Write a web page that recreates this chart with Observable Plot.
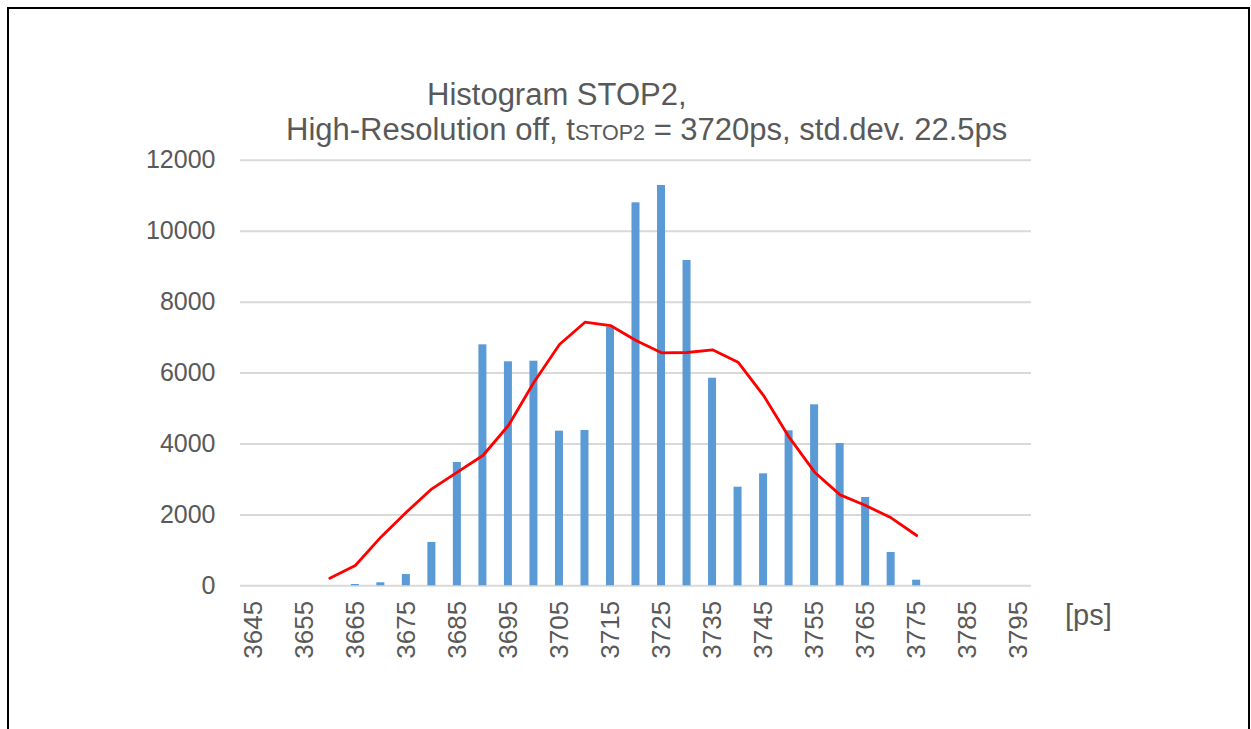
<!DOCTYPE html>
<html>
<head>
<meta charset="utf-8">
<script src="https://cdn.jsdelivr.net/npm/d3@7"></script>
<script src="https://cdn.jsdelivr.net/npm/@observablehq/plot@0.6"></script>
<style>
  html, body { margin: 0; padding: 0; background: #fff; }
  #wrap { position: relative; width: 1251px; height: 729px; overflow: hidden; background: #fff;
          font-family: "Liberation Sans", Arial, sans-serif; color: #595959; }
  #frame { position: absolute; left: 7px; top: 7px; width: 1243px; height: 800px;
           border: 2.5px solid #000; box-sizing: border-box; }
  .t { position: absolute; font-size: 31px; line-height: 35px; white-space: nowrap; }
  .sub { font-size: 21.5px; }
  #unit { position: absolute; left: 1065px; top: 599px; font-size: 29px; line-height: 33px; }
  #chart { position: absolute; left: 0; top: 150px; }
</style>
</head>
<body>
<div id="wrap">
  <div id="frame"></div>
  <div class="t" style="left:427px; top:77px;">Histogram STOP2,</div>
  <div class="t" style="left:286px; top:112px;">High-Resolution off, t<span class="sub">STOP2</span> = 3720ps, std.dev. 22.5ps</div>
  <div id="chart"></div>
  <div id="unit">[ps]</div>
</div>
<script>
const categories = [3645, 3650, 3655, 3660, 3665, 3670, 3675, 3680, 3685, 3690, 3695, 3700, 3705, 3710, 3715,
  3720, 3725, 3730, 3735, 3740, 3745, 3750, 3755, 3760, 3765, 3770, 3775, 3780, 3785, 3790, 3795];
const counts = [0, 0, 0, 0, 37, 85, 318, 1221, 3477, 6796, 6317, 6334, 4361, 4380, 7293,
  10801, 11289, 9174, 5854, 2781, 3158, 4371, 5104, 4013, 2490, 939, 158, 0, 0, 0, 0];
const fitCategories = [3660, 3665, 3670, 3675, 3680, 3685, 3690, 3695, 3700, 3705, 3710, 3715,
  3720, 3725, 3730, 3735, 3740, 3745, 3750, 3755, 3760, 3765, 3770, 3775];
const fitValues = [215, 572, 1371, 2076, 2735, 3204, 3675, 4521, 5742, 6805, 7434, 7339,
  6917, 6571, 6580, 6655, 6306, 5366, 4191, 3204, 2565, 2264, 1917, 1418];
const xTickLabels = [3645, 3655, 3665, 3675, 3685, 3695, 3705, 3715, 3725, 3735, 3745, 3755, 3765, 3775, 3785, 3795];
const yTicks = [0, 2000, 4000, 6000, 8000, 10000, 12000];

const bars = categories.map((c, i) => ({c, v: counts[i]}));
const fit = fitCategories.map((c, i) => ({c, v: fitValues[i]}));

const chart = Plot.plot({
  width: 1251,
  height: 579,
  marginLeft: 240,
  marginRight: 220,
  marginTop: 9.8,
  marginBottom: 143.7,
  style: {fontFamily: "'Liberation Sans', Arial, sans-serif", fontSize: "25px", color: "#595959", background: "transparent", overflow: "visible"},
  x: {type: "band", domain: categories, paddingInner: 0.686, paddingOuter: 0.343, round: false},
  y: {domain: [0, 12000]},
  marks: [
    Plot.ruleY(yTicks, {stroke: "#d9d9d9", strokeWidth: 2}),
    Plot.barY(bars, {x: "c", y: "v", fill: "#5B9BD5"}),
    Plot.line(fit, {x: "c", y: "v", stroke: "#ff0000", strokeWidth: 2.8, strokeLinejoin: "round"}),
    Plot.axisY({ticks: yTicks, tickSize: 0, tickPadding: 25, tickFormat: d => String(d), fontSize: 25, label: null}),
    Plot.axisX({ticks: xTickLabels, tickSize: 0, tickPadding: 15, tickRotate: -90, tickFormat: d => String(d), fontSize: 26, label: null})
  ]
});
document.getElementById("chart").appendChild(chart);
</script>
</body>
</html>
